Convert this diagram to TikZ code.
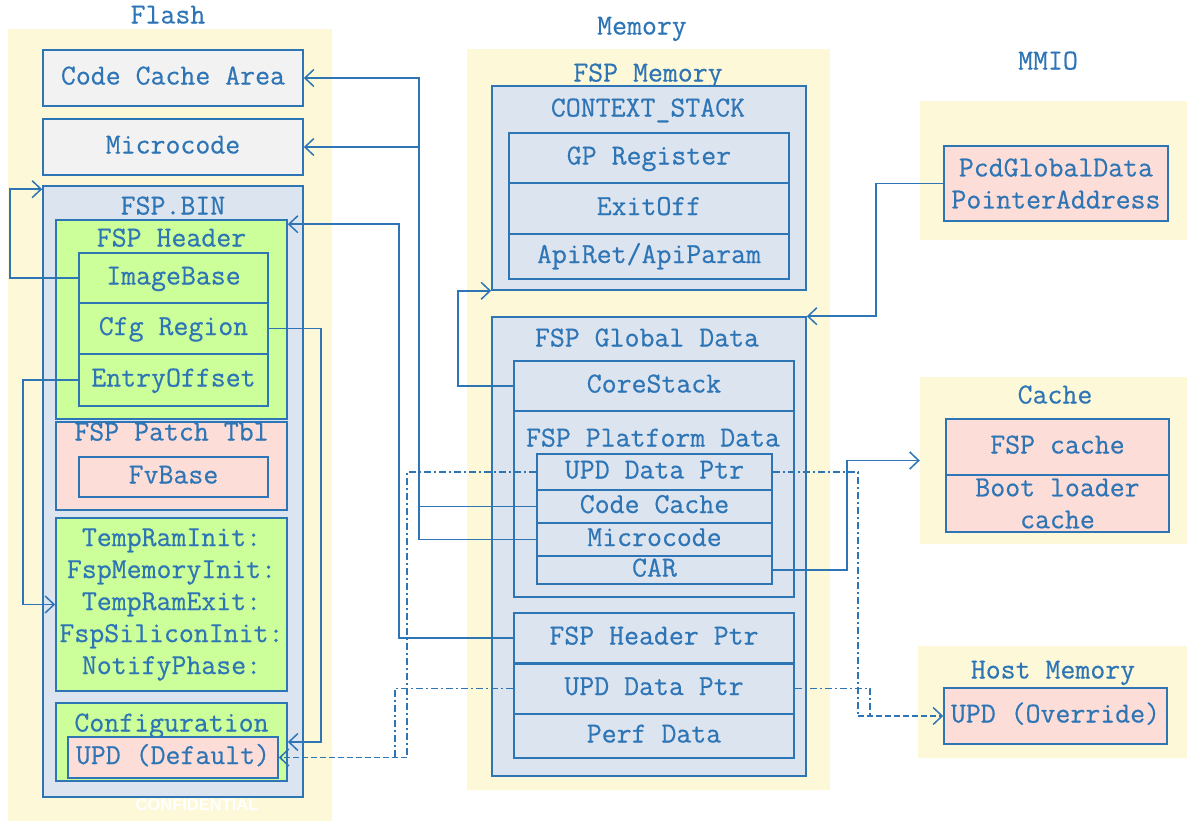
\documentclass[tikz,border=0pt]{standalone}
\usepackage{fontspec}
\newfontfamily\conffont{Liberation Sans}
\newfontfamily\boxfont[FakeBold=0.5]{Latin Modern Mono}
\usetikzlibrary{arrows.meta,calc}
\definecolor{ink}{RGB}{46,117,182}
\definecolor{zone}{RGB}{253,248,216}
\definecolor{slate}{RGB}{220,228,240}
\definecolor{pale}{RGB}{242,242,242}
\definecolor{lime}{RGB}{204,255,153}
\definecolor{rose}{RGB}{253,221,215}
\begin{document}
\begin{tikzpicture}[x=1pt,y=-1pt,
  font=\boxfont\fontsize{29}{32}\selectfont, text=ink,
  zonebox/.style={fill=zone,draw=none,inner sep=0pt},
  frame/.style={draw=ink,line width=1.6pt,inner sep=0pt},
  cell/.style={frame,text height=18pt,text depth=5pt},
  cellml/.style={frame,align=center},
  lbl/.style={inner sep=0pt,text height=18pt,text depth=5pt},
  conn/.style={draw=ink,line width=1.5pt},
  tip/.style={-{Straight Barb[length=9pt,width=17pt,line width=1.5pt]}},
  dashdot/.style={conn,dash pattern=on 7pt off 3pt on 2pt off 3pt},
  dashline/.style={conn,dash pattern=on 6pt off 3pt}]
\useasboundingbox (0,0) rectangle (1187,822);

% ---------- background zones ----------
\node[zonebox,minimum width=324pt,minimum height=792pt] (flashZ) at (170,425) {};
\node[zonebox,minimum width=363pt,minimum height=741pt] (memZ) at (648.5,419.5) {};
\node[zonebox,minimum width=267pt,minimum height=139pt] (mmioZ) at (1053.5,170.5) {};
\node[zonebox,minimum width=267pt,minimum height=167pt] (cacheZ) at (1053.5,460.5) {};
\node[zonebox,minimum width=269pt,minimum height=112pt] (hostZ) at (1052.5,702) {};

% ---------- zone titles ----------
\node[lbl] (tFlash) at (168,17) {Flash};
\node[lbl] (tMem) at (642,28) {Memory};
\node[lbl] (tMmio) at (1048,63) {MMIO};
\node[lbl] (tCache) at (1055,397) {Cache};
\node[lbl] (tHost) at (1053,672) {Host Memory};

% ---------- Flash ----------
\node[cell,fill=pale,minimum width=260pt,minimum height=56pt] (cca) at (173,78) {Code Cache Area};
\node[cell,fill=pale,minimum width=260pt,minimum height=56pt] (ucode) at (173,147) {Microcode};
\node[frame,fill=slate,minimum width=260pt,minimum height=611pt] (fspbin) at (173,491.5) {};
\node[lbl] (tFspbin) at (173,208) {FSP.BIN};
\node[frame,fill=lime,minimum width=231pt,minimum height=199pt] (hdr) at (171.5,319.5) {};
\node[lbl] (tHdr) at (171.5,240) {FSP Header};
\node[cell,fill=lime,minimum width=189pt,minimum height=50pt] (imgbase) at (173.5,278) {ImageBase};
\node[cell,fill=lime,minimum width=189pt,minimum height=51pt] (cfgreg) at (173.5,328.5) {Cfg Region};
\node[cell,fill=lime,minimum width=189pt,minimum height=52pt] (entry) at (173.5,380) {EntryOffset};
\node[frame,fill=rose,minimum width=231pt,minimum height=88pt] (patch) at (171.5,466) {};
\node[lbl] (tPatch) at (171.5,434) {FSP Patch Tbl};
\node[cell,fill=rose,minimum width=189pt,minimum height=40pt] (fvbase) at (173.5,477) {FvBase};
\node[cellml,fill=lime,minimum width=231pt,minimum height=173pt] (api) at (171.5,604.5)
  {TempRamInit:\\FspMemoryInit:\\TempRamExit:\\FspSiliconInit:\\NotifyPhase:};
\node[frame,fill=lime,minimum width=231pt,minimum height=78pt] (config) at (171.5,742) {};
\node[lbl] (tConfig) at (171.5,725) {Configuration};
\node[cell,fill=rose,minimum width=210pt,minimum height=41pt] (upddef) at (173,757.5) {UPD (Default)};
\node[inner sep=0pt,text=white,font=\conffont\bfseries\fontsize{16.5}{18}\selectfont] (conf) at (197,805) {CONFIDENTIAL};

% ---------- Memory ----------
\node[lbl] (tFspMem) at (648,75) {FSP Memory};
\node[frame,fill=slate,minimum width=314pt,minimum height=204pt] (ctx) at (649,188) {};
\node[lbl] (tCtx) at (648,110) {CONTEXT\_STACK};
\node[cell,fill=slate,minimum width=280pt,minimum height=50pt] (gpreg) at (649,158) {GP Register};
\node[cell,fill=slate,minimum width=280pt,minimum height=51pt] (exitoff) at (649,208.5) {ExitOff};
\node[cell,fill=slate,minimum width=280pt,minimum height=45pt] (apiret) at (649,256.5) {ApiRet/ApiParam};

\node[frame,fill=slate,minimum width=314pt,minimum height=459pt] (gdata) at (649,546.5) {};
\node[lbl] (tGdata) at (647,340) {FSP Global Data};
\node[cell,fill=slate,minimum width=280pt,minimum height=50pt] (corestk) at (654,386) {CoreStack};
\node[frame,fill=slate,minimum width=280pt,minimum height=186pt] (plat) at (654,504) {};
\node[lbl] (tPlat) at (653,440) {FSP Platform Data};
\node[cell,fill=slate,minimum width=235pt,minimum height=36pt] (updp) at (654.5,472) {UPD Data Ptr};
\node[cell,fill=slate,minimum width=235pt,minimum height=33pt] (ccm) at (654.5,506.5) {Code Cache};
\node[cell,fill=slate,minimum width=235pt,minimum height=33pt] (ucm) at (654.5,539.5) {Microcode};
\node[cell,fill=slate,minimum width=235pt,minimum height=28pt] (car) at (654.5,570) {CAR};
\node[cell,fill=slate,minimum width=280pt,minimum height=50pt] (hdrptr) at (654,638) {FSP Header Ptr};
\node[cell,fill=slate,minimum width=280pt,minimum height=51pt] (updg) at (654,688.5) {UPD Data Ptr};
\node[cell,fill=slate,minimum width=280pt,minimum height=44pt] (perf) at (654,736) {Perf Data};
\draw[ink,line width=2.6pt] (hdrptr.south west) -- (hdrptr.south east);

% ---------- MMIO / Cache / Host memory ----------
\node[cellml,fill=rose,minimum width=224pt,minimum height=75pt] (pcd) at (1056,183.5) {PcdGlobalData\\PointerAddress};
\node[cell,fill=rose,minimum width=223pt,minimum height=56pt] (fspc) at (1057.5,447) {FSP cache};
\node[cellml,fill=rose,minimum width=223pt,minimum height=57pt] (blc) at (1057.5,503.5) {Boot loader\\cache};
\node[cell,fill=rose,minimum width=223pt,minimum height=56pt] (updov) at (1055.5,716) {UPD (Override)};

% ---------- routing columns ----------
\coordinate (xImg) at (10,0);
\coordinate (xEntry) at (23,0);
\coordinate (xCfg) at (321,0);
\coordinate (xUpdG) at (395,0);
\coordinate (xHdr) at (399,0);
\coordinate (xUpdP) at (407,0);
\coordinate (xCode) at (419,0);
\coordinate (xCore) at (458,0);
\coordinate (xCar) at (847,0);
\coordinate (xUpdPR) at (858,0);
\coordinate (xUpdGR) at (870,0);
\coordinate (xPcd) at (876,0);
\coordinate (binTip) at ($(fspbin.north west)+(0,4)$);
\coordinate (hdrTip) at ($(hdr.north east)+(0,5)$);

% ---------- solid pointers ----------
\draw[conn,tip] (ccm.west) -- (ccm.west -| xCode) |- (cca.east);
\draw[conn,tip] (ucm.west) -- (ucm.west -| xCode) |- (ucode.east);
\draw[conn,tip] (hdrptr.west) -- (hdrptr.west -| xHdr) |- (hdrTip);
\draw[conn,tip] (corestk.west) -- (corestk.west -| xCore) |- (ctx.south west);
\draw[conn,tip] (imgbase.west) -- (imgbase.west -| xImg) |- (binTip);
\draw[conn,tip] (entry.west) -- (entry.west -| xEntry) |- (api.west);
\draw[conn,tip] (cfgreg.east) -- (cfgreg.east -| xCfg) |- (config.east);
\draw[conn,tip] (car.east) -- (car.east -| xCar) |- (cacheZ.west);
\draw[conn,tip] (pcd.west) -- (pcd.west -| xPcd) |- (gdata.north east);

% ---------- UPD pointers ----------
\coordinate (defJoin) at (xUpdP |- upddef.east);
\coordinate (ovJoin) at (xUpdPR |- updov.west);
\draw[dashdot] (updp.west) -- (updp.west -| xUpdP) -- (defJoin);
\draw[dashdot] (updg.west) -- (updg.west -| xUpdG) -- (xUpdG |- upddef.east);
\draw[dashline,tip] (defJoin) -- (upddef.east);
\draw[dashdot] (updp.east) -- (updp.east -| xUpdPR) -- (ovJoin);
\draw[dashdot] (updg.east) -- (updg.east -| xUpdGR) -- (xUpdGR |- updov.west);
\draw[dashline,tip] (ovJoin) -- (updov.west);
\end{tikzpicture}
\end{document}
